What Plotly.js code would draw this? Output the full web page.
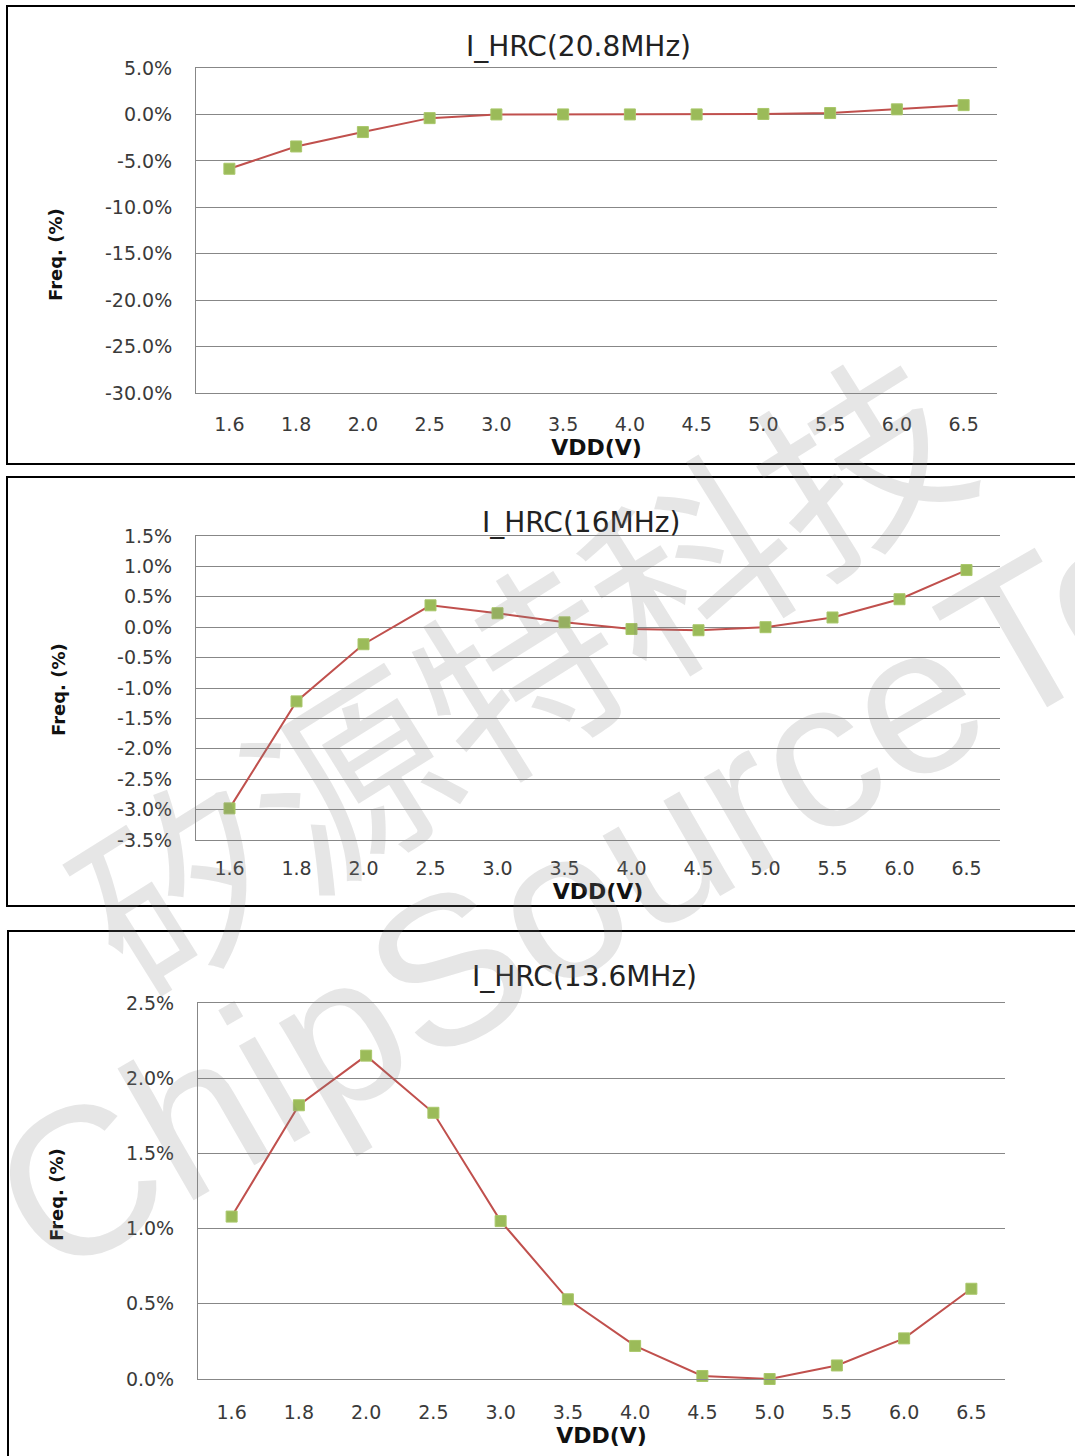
<!DOCTYPE html>
<html>
<head>
<meta charset="utf-8">
<script src="https://cdn.plot.ly/plotly-3.0.1.min.js"></script>
<style>
  html, body { margin: 0; padding: 0; background: #ffffff; }
  #chart { width: 1075px; height: 1456px; }
</style>
</head>
<body>
<div id="chart"></div>
<script>
// ---- data ----
const vdd = ['1.6','1.8','2.0','2.5','3.0','3.5','4.0','4.5','5.0','5.5','6.0','6.5'];

const titles = ['I_HRC(20.8MHz)', 'I_HRC(16MHz)', 'I_HRC(13.6MHz)'];

const freq208 = [-5.85, -3.45, -1.9, -0.4, 0.0, 0.0, 0.0, 0.0, 0.05, 0.15, 0.55, 1.0];
const freq16  = [-2.98, -1.22, -0.28, 0.36, 0.23, 0.08, -0.03, -0.05, 0.0, 0.16, 0.46, 0.94];
const freq136 = [1.08, 1.82, 2.15, 1.77, 1.05, 0.53, 0.22, 0.02, 0.0, 0.09, 0.27, 0.60];

const yTicks1  = [5, 0, -5, -10, -15, -20, -25, -30];
const yLabels1 = ['5.0%', '0.0%', '-5.0%', '-10.0%', '-15.0%', '-20.0%', '-25.0%', '-30.0%'];
const yTicks2  = [1.5, 1.0, 0.5, 0.0, -0.5, -1.0, -1.5, -2.0, -2.5, -3.0, -3.5];
const yLabels2 = ['1.5%', '1.0%', '0.5%', '0.0%', '-0.5%', '-1.0%', '-1.5%', '-2.0%', '-2.5%', '-3.0%', '-3.5%'];
const yTicks3  = [2.5, 2.0, 1.5, 1.0, 0.5, 0.0];
const yLabels3 = ['2.5%', '2.0%', '1.5%', '1.0%', '0.5%', '0.0%'];

const xTitle = 'VDD(V)';
const yTitle = 'Freq. (%)';
const watermarkCN = '矽源特科技';
const watermarkEN = 'ChipSourceTech';

// ---- layout helpers ----
const W = 1075, H = 1456;
const px = v => v / W;
const py = v => 1 - v / H;

const FONT = 'DejaVu Sans, Verdana, sans-serif';
const GRID = '#878787';
const LINE_RED = '#C0504D';
const MARK_GREEN = '#9BBB59';

function trace(y, xa, ya) {
  return {
    type: 'scatter', mode: 'lines+markers',
    x: vdd, y: y, xaxis: xa, yaxis: ya,
    line: { color: LINE_RED, width: 2 },
    marker: { symbol: 'square', size: 11, color: MARK_GREEN, line: { color: '#a9c76a', width: 1 } },
    showlegend: false, cliponaxis: false
  };
}

function xAxis(dom, anchor, standoff, tstand) {
  return {
    domain: dom, anchor: anchor, type: 'category', range: [-0.5, 11.5],
    showgrid: false, showline: true, mirror: true, linecolor: GRID, linewidth: 1,
    ticks: '', ticklabelstandoff: standoff,
    tickfont: { family: FONT, size: 19, color: '#3a3a3a' },
    title: { text: xTitle, font: { family: FONT, size: 22, color: '#111', weight: 'bold' }, standoff: tstand },
    automargin: false, fixedrange: true
  };
}

function yAxis(dom, anchor, range, tv, tt) {
  return {
    domain: dom, anchor: anchor, range: range,
    tickmode: 'array', tickvals: tv, ticktext: tt,
    showgrid: true, gridcolor: GRID, gridwidth: 1,
    showline: true, linecolor: GRID, linewidth: 1,
    zeroline: false, ticks: '', ticklabelstandoff: 19,
    tickfont: { family: FONT, size: 19, color: '#3a3a3a' },
    automargin: false, fixedrange: true
  };
}

function label(text, x, y, size, extra) {
  return Object.assign({
    text: text, xref: 'paper', yref: 'paper', x: px(x), y: py(y),
    xanchor: 'center', yanchor: 'middle', showarrow: false,
    font: { family: FONT, size: size, color: '#222' }
  }, extra || {});
}

const data = [
  trace(freq208, 'x', 'y'),
  trace(freq16, 'x2', 'y2'),
  trace(freq136, 'x3', 'y3')
];

const boldY = { textangle: -90, font: { family: FONT, size: 18, color: '#111', weight: 'bold' } };

const layout = {
  width: W, height: H,
  margin: { l: 0, r: 0, t: 0, b: 0 },
  paper_bgcolor: '#ffffff', plot_bgcolor: '#ffffff',
  showlegend: false,
  font: { family: FONT },
  xaxis:  xAxis([px(196), px(997)], 'y', 14, 2),
  yaxis:  yAxis([py(393), py(68)], 'x', [-30, 5], yTicks1, yLabels1),
  xaxis2: xAxis([px(196), px(1000)], 'y2', 11, 1),
  yaxis2: yAxis([py(840), py(536)], 'x2', [-3.5, 1.5], yTicks2, yLabels2),
  xaxis3: xAxis([px(198), px(1005)], 'y3', 16, 5),
  yaxis3: yAxis([py(1379), py(1003)], 'x3', [0, 2.5], yTicks3, yLabels3),
  shapes: [
    { type: 'rect', xref: 'paper', yref: 'paper', x0: px(7), x1: px(1085), y0: py(464), y1: py(6),
      line: { color: '#000', width: 2 }, fillcolor: 'rgba(0,0,0,0)', layer: 'below' },
    { type: 'rect', xref: 'paper', yref: 'paper', x0: px(7), x1: px(1085), y0: py(906), y1: py(477),
      line: { color: '#000', width: 2 }, fillcolor: 'rgba(0,0,0,0)', layer: 'below' },
    { type: 'rect', xref: 'paper', yref: 'paper', x0: px(8), x1: px(1085), y0: py(1470), y1: py(931),
      line: { color: '#000', width: 2 }, fillcolor: 'rgba(0,0,0,0)', layer: 'below' }
  ],
  annotations: [
    label(titles[0], 578, 47, 28),
    label(titles[1], 581, 522, 28),
    label(titles[2], 584, 977, 28),
    label(yTitle, 55, 255, 18, boldY),
    label(yTitle, 58, 690, 18, boldY),
    label(yTitle, 56, 1195, 18, boldY),
    label(watermarkCN, 515, 665, 200, { textangle: -32,
      font: { family: 'Noto Sans CJK SC', size: 200, color: 'rgba(128,128,128,0.2)' } }),
    label(watermarkEN, 680, 835, 210, { textangle: -30,
      font: { family: 'Liberation Sans, Arial, sans-serif', size: 210, color: 'rgba(128,128,128,0.2)' } })
  ]
};

Plotly.newPlot('chart', data, layout, { staticPlot: true, displayModeBar: false });
</script>
</body>
</html>
